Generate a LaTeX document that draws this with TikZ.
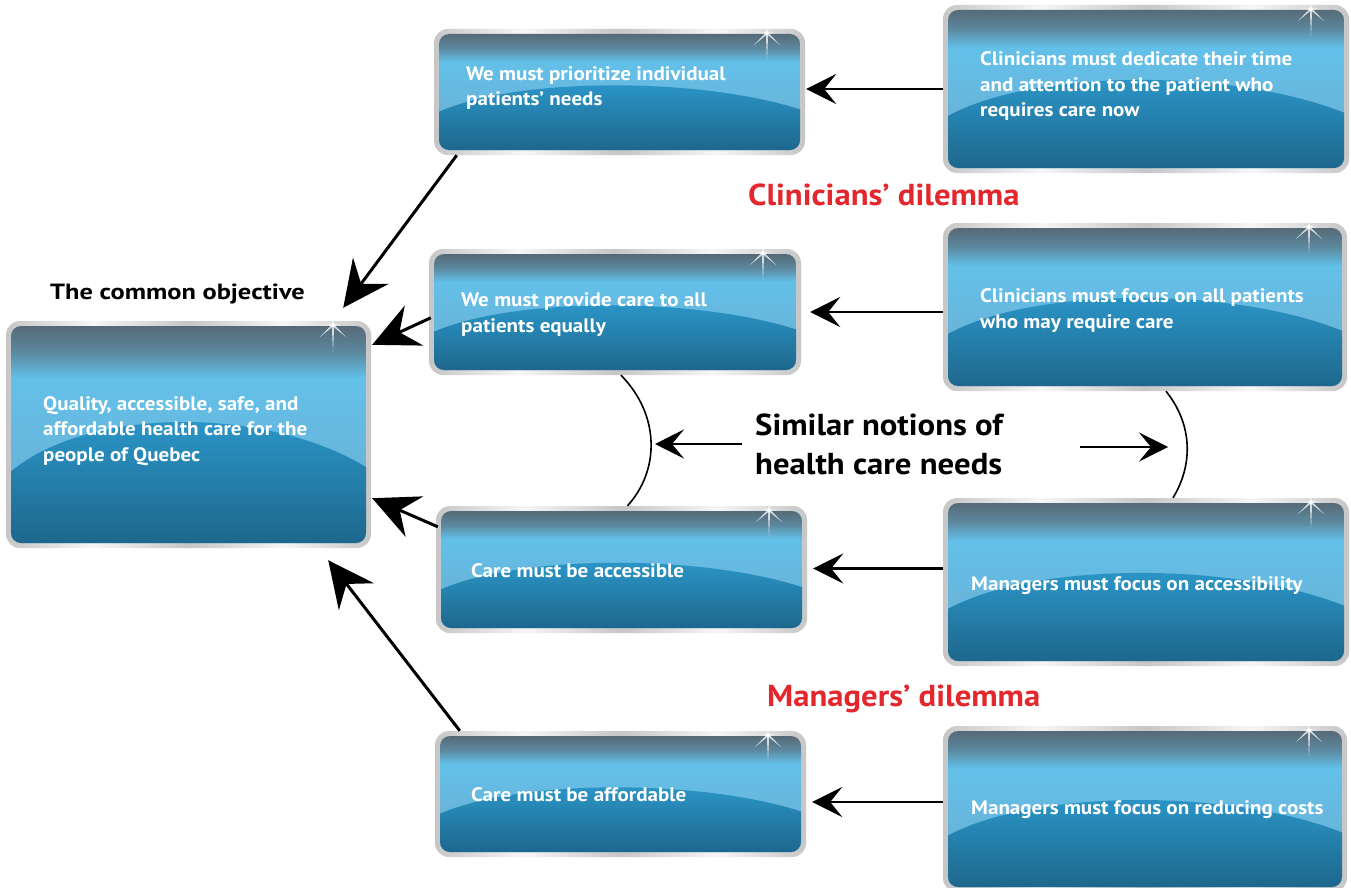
\documentclass[tikz,border=0pt]{standalone}
\usepackage{fontspec}
\setmainfont{PT Sans}[FakeStretch=1.08]
\newfontfamily\objfont{PT Sans}[FakeStretch=1.2]
\usetikzlibrary{arrows.meta}
\definecolor{sl0}{HTML}{566A78}
\definecolor{sl1}{HTML}{5C889E}
\definecolor{lb0}{HTML}{63C0E9}
\definecolor{lb1}{HTML}{66B9E0}
\definecolor{lb2}{HTML}{6BAACC}
\definecolor{db0}{HTML}{2A93C4}
\definecolor{db2}{HTML}{1E678D}
\definecolor{sv1}{HTML}{C6C6C6}
\definecolor{sv2}{HTML}{F6F6F6}
\definecolor{dred}{HTML}{E4262D}
\pgfdeclareverticalshading{gtop}{100bp}{color(0bp)=(lb2); color(25bp)=(lb2); color(50bp)=(lb1); color(63bp)=(lb0); color(69bp)=(sl1); color(75bp)=(sl0); color(100bp)=(sl0)}
\pgfdeclareverticalshading{gbot}{100bp}{color(0bp)=(db2); color(25bp)=(db2); color(68bp)=(db0); color(100bp)=(db0)}
\pgfdeclarehorizontalshading{silver}{100bp}{color(0bp)=(sv1); color(25bp)=(sv1); color(37bp)=(sv2); color(50bp)=(sv1); color(63bp)=(sv2); color(75bp)=(sv1); color(100bp)=(sv1)}
\tikzset{
  boxnode/.style={inner sep=0pt, draw=none},
  btext/.style={text=white, font=\bfseries\fontsize{19.5}{25.5}\selectfont, align=left, anchor=base west, inner sep=0pt},
  ltext/.style={text=black, font=\objfont\bfseries\fontsize{22}{26}\selectfont, anchor=base west, inner sep=0pt},
  rtext/.style={text=dred, font=\bfseries\fontsize{30.3}{34}\selectfont, anchor=base west, inner sep=0pt},
  stext/.style={text=black, font=\bfseries\fontsize{30.3}{38.5}\selectfont, align=left, anchor=base west, inner sep=0pt},
  bigarrow/.style={line width=3pt, -{Stealth[length=46pt,width=44pt,inset=16pt]}},
  harrow/.style={line width=2.8pt, -{Stealth[length=30pt,width=30pt,inset=12pt]}},
  sarrow/.style={line width=2.5pt, -{Stealth[length=29pt,width=29pt,inset=12pt]}},
  arcline/.style={line width=1.6pt},
  spark/.style={white, opacity=0.75}
}
\newcommand{\gbox}[5]{%
  \pgfmathsetmacro{\gAx}{#2}\pgfmathsetmacro{\gAy}{#3}%
  \pgfmathsetmacro{\gBx}{#4}\pgfmathsetmacro{\gBy}{#5}%
  \pgfmathsetmacro{\gIx}{\gAx+5}\pgfmathsetmacro{\gIy}{\gAy+5}%
  \pgfmathsetmacro{\gJx}{\gBx-5}\pgfmathsetmacro{\gJy}{\gBy-5}%
  \pgfmathsetmacro{\gH}{\gJy-\gIy}%
  \pgfmathsetmacro{\gYl}{\gIy+0.67*\gH}\pgfmathsetmacro{\gYc}{\gIy+0.37*\gH}%
  \pgfmathsetmacro{\gYr}{\gIy+0.65*\gH}%
  \pgfmathsetmacro{\gXa}{\gIx+0.22*(\gJx-\gIx)}\pgfmathsetmacro{\gXb}{\gIx+0.72*(\gJx-\gIx)}%
  \pgfmathsetmacro{\gSx}{\gBx-38}\pgfmathsetmacro{\gSy}{\gAy+4}%
  \pgfmathsetmacro{\gW}{\gBx-\gAx}\pgfmathsetmacro{\gHH}{\gBy-\gAy}%
  \shade[shading=silver, rounded corners=14pt] (\gAx,\gAy) rectangle (\gBx,\gBy);
  \begin{scope}
    \clip[rounded corners=10pt] (\gIx,\gIy) rectangle (\gJx,\gJy);
    \shade[shading=gtop] (\gIx,\gIy) rectangle (\gJx,\gJy);
    \shade[shading=gbot] (\gIx,\gYl) .. controls (\gXa,\gYc) and (\gXb,\gYc) .. (\gJx,\gYr) -- (\gJx,\gJy) -- (\gIx,\gJy) -- cycle;
  \end{scope}
  \fill[spark] (\gSx-1.2,\gSy) -- (\gSx,\gSy+27) -- (\gSx+1.2,\gSy) -- (\gSx,\gSy-5) -- cycle;
  \fill[spark] (\gSx-0.8,\gSy-0.8) -- (\gSx-13,\gSy+12) -- (\gSx+0.8,\gSy+0.8) -- cycle;
  \fill[spark] (\gSx+0.8,\gSy-0.8) -- (\gSx+13,\gSy+12) -- (\gSx-0.8,\gSy+0.8) -- cycle;
  \fill[spark] (\gSx,\gSy-0.8) -- (\gSx-9,\gSy) -- (\gSx,\gSy+0.8) -- (\gSx+9,\gSy) -- cycle;
  \fill[white, opacity=0.85] (\gSx,\gSy) circle (2);
  \node[boxnode, minimum width=\gW pt, minimum height=\gHH pt] (#1) at ({(\gAx+\gBx)/2},{(\gAy+\gBy)/2}) {};
}
\begin{document}
\begin{tikzpicture}[x=1pt,y=-1pt]
\useasboundingbox[fill=white] (0,0) rectangle (1351,888);
% boxes
\gbox{A}{6}{321}{371}{548}
\gbox{B1}{434}{29}{805}{155}
\gbox{B2}{429}{249}{801}{375}
\gbox{B3}{436}{506}{807}{633}
\gbox{B4}{435}{731}{806}{857}
\gbox{C1}{943}{5}{1349}{173}
\gbox{C2}{943}{223}{1347}{391}
\gbox{C3}{943}{498}{1349}{666}
\gbox{C4}{943}{726}{1347}{892}
% texts (anchor = baseline of the last line)
\node[btext] (tA) at (43,461) {Quality, accessible, safe, and\\affordable health care for the\\people of Quebec};
\node[btext] (tB1) at (466,106) {We must prioritize individual\\patients’ needs};
\node[btext] (tB2) at (461,332) {We must provide care to all\\patients equally};
\node[btext] (tB3) at (471,577) {Care must be accessible};
\node[btext] (tB4) at (471,801) {Care must be affordable};
\node[btext] (tC1) at (980,117) {Clinicians must dedicate their time\\and attention to the patient who\\requires care now};
\node[btext] (tC2) at (980,328) {Clinicians must focus on all patients\\who may require care};
\node[btext] (tC3) at (971,590) {Managers must focus on accessibility};
\node[btext] (tC4) at (971,814) {Managers must focus on reducing costs};
% labels
\node[ltext] (lobj) at (50,299) {The common objective};
\node[rtext] (lcd) at (748,205) {Clinicians’ dilemma};
\node[rtext] (lmd) at (767,706) {Managers’ dilemma};
\node[stext] (sim) at (755,474) {Similar notions of\\health care needs};
% arcs
\coordinate (la1) at ([xshift=6pt]B2.south);
\coordinate (la2) at ([xshift=6pt]B3.north);
\coordinate (ra1) at ([xshift=21pt]C2.south);
\coordinate (ra2) at ([xshift=27pt]C3.north);
\draw[arcline] (la1) .. controls (660,415) and (660,470) .. (la2);
\draw[arcline] (ra1) .. controls (1193,425) and (1193,465) .. (ra2);
\coordinate (ltip) at (655,444);
\coordinate (lst) at (742,444);
\coordinate (rst) at (1080,447);
\coordinate (rtip) at (1168,447);
\draw[sarrow] (lst) -- (ltip);
\draw[sarrow] (rst) -- (rtip);
% horizontal arrows
\draw[harrow] (C1.west) -- ([xshift=1pt]C1.west -| B1.east);
\draw[harrow] (B2.east -| C2.west) -- ([xshift=9pt]B2.east);
\draw[harrow] ([yshift=1pt]B3.east -| C3.west) -- ([xshift=6pt,yshift=1pt]B3.east);
\draw[harrow] ([yshift=-8pt]B4.east -| C4.west) -- ([xshift=6pt,yshift=-8pt]B4.east);
% arrows to the objective
\coordinate (a1) at ([shift={(-28,-13)}]A.north east);
\coordinate (a2) at ([shift={(1,24)}]A.north east);
\coordinate (a3) at ([shift={(1,-50)}]A.south east);
\coordinate (a4) at ([shift={(-43,12)}]A.south east);
\draw[bigarrow] ([xshift=23pt]B1.south west) -- (a1);
\draw[bigarrow] ([shift={(2,69)}]B2.north west) -- (a2);
\draw[bigarrow] ([shift={(2,21)}]B3.north west) -- (a3);
\draw[bigarrow] ([xshift=25pt]B4.north west) -- (a4);
\end{tikzpicture}
\end{document}
